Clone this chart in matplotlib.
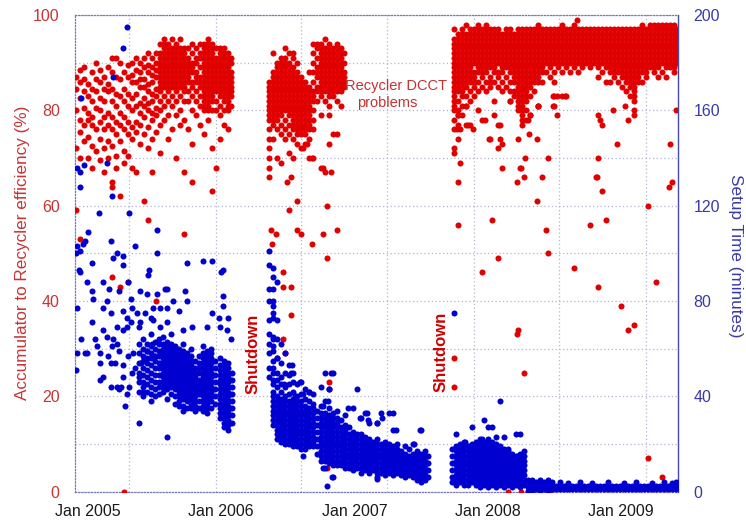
import matplotlib
matplotlib.use('Agg')
import matplotlib.pyplot as plt

plt.rcParams['font.family'] = ['Liberation Sans', 'DejaVu Sans']

# ---------------- data (decimal years; % efficiency; minutes) ----------------
year_ticks = [2005, 2006, 2007, 2008, 2009]
year_labels = ['Jan 2005', 'Jan 2006', 'Jan 2007', 'Jan 2008', 'Jan 2009']
grid_years = [2005.308, 2005.961, 2006.598, 2007.244, 2007.897, 2008.535, 2009.188]
eff_ticks = [0, 20, 40, 60, 80, 100]
setup_ticks = [0, 40, 80, 120, 160, 200]

# Accumulator-to-Recycler efficiency, period 1 (columns)
eff1_x = [2004.91, 2004.94, 2004.97, 2005.00, 2005.03, 2005.06, 2005.09, 2005.12, 2005.15, 2005.18,
          2005.21, 2005.24, 2005.27, 2005.30, 2005.33, 2005.36, 2005.39, 2005.42, 2005.45, 2005.48,
          2005.51, 2005.54, 2005.57, 2005.60, 2005.63, 2005.66, 2005.69, 2005.72, 2005.75, 2005.78,
          2005.81, 2005.84, 2005.87, 2005.90, 2005.93, 2005.96, 2005.99, 2006.02, 2006.05, 2006.07]
eff1_y = [
    [87, 84.5, 80, 72, 59], [88.5, 86, 82.5, 78, 75.5, 70, 53], [89, 86.5, 84, 80.5, 77, 73.5],
    [85.5, 83, 79.5, 78, 74.5, 70], [88, 84.5, 82, 78.5, 77, 72.5, 68], [90, 86.5, 84, 80.5, 76, 71.5],
    [88.5, 86, 82.5, 80, 77.5, 74, 69.5], [87, 84.5, 82, 78.5, 76, 72, 67],
    [89, 85.5, 84, 79.5, 77, 73.5, 70], [91, 88, 84.5, 82, 78.5, 76, 72.5, 65, 64, 45],
    [91, 87, 83.5, 81, 77.5, 75, 70.5, 68], [90, 86.5, 83, 79.5, 77, 73.5, 62, 43],
    [88, 84.5, 82, 78.5, 76, 71.5, 69, 0], [89.5, 87, 83.5, 81, 77.5, 75, 70.5, 44],
    [90, 87.5, 86, 82.5, 80, 76.5, 74, 68], [91, 88.5, 86, 83.5, 81, 77.5, 75.5, 67],
    [90, 88, 86.5, 85, 81.5, 79.5, 77, 73], [91, 89, 86.5, 85, 82.5, 81, 78.5, 75, 61],
    [92, 89.5, 88, 85.5, 84, 81.5, 80, 76.5, 72, 57], [91, 89, 87.5, 86, 83.5, 82, 79.5, 78, 74, 67],
    [92, 90, 88.5, 87, 84.5, 83, 80.5, 79, 75.5, 40],
    [94, 92, 91, 90, 89, 88, 87, 86, 85, 84, 82, 80, 77, 71],
    [95, 94, 93, 92, 91, 90, 89, 88, 87, 86, 85, 83, 81, 78],
    [94, 93, 92, 91, 90, 89, 88, 87, 86, 85, 84, 82, 79, 74],
    [95, 93, 92, 91, 90, 89, 88, 87, 86, 85, 83, 81, 76],
    [94, 93, 92, 91, 90, 89, 88, 87, 86, 85, 84, 82, 79, 70],
    [95, 93, 92, 91, 90, 89, 88, 87, 86, 85, 83, 80, 77],
    [93, 92, 91, 90, 89, 88, 87, 86, 85, 84, 82, 78, 67, 54],
    [93, 91, 90, 89, 88, 87, 86, 84, 82, 76], [94, 92, 90, 89, 88, 86, 85, 83, 80, 73, 65],
    [93, 91, 90, 88, 87, 86, 84, 82, 79], [94, 92, 91, 89, 87, 86, 85, 83, 81, 77],
    [94, 93, 92, 91, 90, 89, 88, 87, 86, 85, 84, 83, 82, 81, 80, 75],
    [95, 94, 93, 92, 91, 90, 89, 88, 87, 86, 85, 84, 83, 82, 81, 80, 78],
    [94, 93, 92, 91, 90, 89, 88, 87, 86, 85, 84, 83, 82, 80, 72, 63],
    [93, 91, 90, 89, 88, 87, 86, 85, 84, 82, 80, 68],
    [93, 92, 91, 90, 89, 88, 87, 86, 85, 84, 83, 81, 79, 74],
    [93, 92, 91, 90, 89, 88, 87, 86, 85, 84, 83, 82, 80, 77],
    [92, 91, 90, 89, 88, 87, 86, 85, 84, 83, 82, 81, 80, 76],
    [91, 90, 88, 87, 86, 85, 84, 83, 81]]

# period 2 (after first shutdown)
eff2_x = [2006.36, 2006.39, 2006.42, 2006.45, 2006.48, 2006.51, 2006.54, 2006.57, 2006.60, 2006.63,
          2006.66, 2006.69, 2006.72, 2006.75, 2006.78, 2006.81, 2006.84, 2006.87, 2006.90, 2006.92]
eff2_y = [
    [86, 85, 84, 83, 82, 81, 80, 79, 78, 76, 74, 72, 70, 68, 66],
    [92, 88, 87, 86, 85, 84, 83, 82, 81, 80, 79, 78, 77, 74],
    [90, 89, 88, 87, 86, 85, 84, 83, 82, 81, 80, 79, 78, 76, 70],
    [91, 90, 89, 88, 87, 86, 85, 84, 83, 82, 81, 80, 79, 77, 75, 69],
    [93, 91, 90, 89, 88, 87, 86, 85, 84, 83, 82, 81, 80, 78, 76, 74],
    [92, 90, 89, 88, 87, 86, 85, 84, 83, 82, 81, 80, 79, 77, 75, 71],
    [92, 91, 89, 88, 87, 86, 85, 84, 83, 82, 81, 80, 79, 78, 77, 76, 74, 70],
    [90, 88, 87, 86, 85, 84, 83, 82, 81, 80, 79, 78, 77, 76, 75, 73],
    [87, 86, 85, 84, 83, 82, 81, 80, 79, 78, 77, 76, 75, 72],
    [86, 85, 84, 83, 82, 81, 80, 79, 78, 77, 76, 75, 73],
    [88, 85, 84, 83, 82, 81, 80, 79, 78, 77, 76, 74, 70],
    [94, 92, 90, 88, 86, 84, 83, 82, 80, 78, 76, 70],
    [94, 93, 91, 89, 88, 87, 85, 84, 82],
    [94, 93, 92, 91, 90, 89, 88, 87, 86, 85, 84, 83, 79, 68],
    [95, 93, 92, 91, 90, 89, 88, 87, 86, 85, 84, 82, 67],
    [94, 93, 92, 91, 90, 89, 88, 87, 86, 85, 84, 83, 81, 79, 73],
    [93, 92, 91, 90, 89, 88, 87, 86, 85, 84, 83, 75],
    [94, 93, 92, 91, 90, 89, 88, 87, 86, 85, 84, 82, 75],
    [93, 92, 91, 90, 89, 88, 87, 86, 85, 84, 81],
    [92, 90, 88, 87, 86, 85]]
eff2_out_x = [2006.49, 2006.57, 2006.51, 2006.37, 2006.41, 2006.57, 2006.60, 2006.38, 2006.46, 2006.46,
              2006.52, 2006.52, 2006.46, 2006.48, 2006.82, 2006.79, 2006.87, 2006.76, 2006.68, 2006.79,
              2006.81, 2006.79, 2006.52, 2006.61, 2006.64, 2006.68, 2006.76]
eff2_out_y = [65, 61, 59, 55, 54, 55, 54, 52, 46, 43,
              43, 37, 32, 29, 67, 60, 55, 54, 52, 49,
              23, 5, 66, 72, 73, 70, 68]

# period 3 (after second shutdown)
eff3_x = [2007.75, 2007.78, 2007.81, 2007.84, 2007.87, 2007.90, 2007.93, 2007.96, 2007.99, 2008.02,
          2008.05, 2008.08, 2008.11, 2008.14, 2008.17, 2008.20, 2008.23, 2008.26, 2008.29, 2008.32,
          2008.35, 2008.38, 2008.41, 2008.44, 2008.47, 2008.50, 2008.53, 2008.56, 2008.59, 2008.62,
          2008.65, 2008.68, 2008.71, 2008.74, 2008.77, 2008.80, 2008.83, 2008.86, 2008.89, 2008.92,
          2008.95, 2008.98, 2009.01, 2009.04, 2009.07, 2009.10, 2009.13, 2009.16, 2009.19, 2009.22,
          2009.25, 2009.28, 2009.31, 2009.34, 2009.37, 2009.40, 2009.42]
eff3_y = [
    [97, 95, 94, 93, 92, 91, 90, 89, 88, 87, 86, 85, 84, 83, 82, 81, 80, 78, 76, 72],
    [96, 95, 94, 93, 92, 91, 90, 89, 88, 87, 86, 85, 84, 82, 80, 79, 77, 74],
    [97, 96, 95, 94, 93, 92, 91, 90, 89, 88, 87, 86, 85, 84, 83, 81, 79],
    [98, 96, 95, 94, 93, 92, 91, 90, 89, 88, 87, 86, 85, 83, 81, 77],
    [97, 96, 95, 94, 93, 92, 91, 90, 89, 88, 87, 86, 84, 82, 77],
    [97, 96, 95, 94, 93, 92, 91, 90, 88, 87, 86, 85, 83],
    [98, 97, 96, 95, 94, 93, 92, 91, 90, 89, 88, 86, 84, 80],
    [97, 96, 95, 94, 93, 92, 91, 90, 89, 88, 87, 85, 78],
    [98, 97, 96, 95, 94, 93, 92, 91, 90, 89, 88, 86, 84],
    [97, 96, 95, 94, 93, 92, 91, 90, 89, 87, 86, 85],
    [97, 96, 95, 94, 93, 92, 91, 90, 89, 88, 86, 82, 79],
    [97, 96, 95, 94, 93, 92, 91, 90, 88, 87, 85, 77],
    [96, 95, 94, 93, 92, 91, 90, 89, 88, 86, 84],
    [97, 96, 95, 94, 93, 92, 91, 90, 89, 87, 85],
    [97, 96, 95, 94, 93, 92, 91, 90, 89, 88, 86, 84, 82],
    [96, 95, 94, 93, 92, 91, 90, 89, 88, 87, 86, 84, 83],
    [97, 96, 95, 94, 93, 92, 91, 90, 89, 88, 87, 86, 85, 84, 83, 82, 81, 80],
    [97, 96, 95, 94, 93, 92, 91, 90, 89, 88, 87, 86, 85, 84, 83, 82, 81, 80, 79, 78],
    [97, 96, 95, 94, 93, 92, 91, 90, 89, 88, 87, 86, 85, 84, 83, 82, 80, 78],
    [97, 96, 95, 94, 93, 92, 91, 90, 89, 88, 87, 86, 85, 83, 79],
    [97, 96, 95, 94, 93, 92, 91, 90, 89, 88, 87, 86, 84],
    [98, 97, 96, 95, 94, 93, 92, 91, 90, 89, 88, 87, 86, 81],
    [97, 96, 95, 94, 93, 92, 91, 90, 89, 88, 86],
    [97, 96, 95, 94, 93, 92, 91, 90, 88],
    [97, 96, 95, 94, 93, 92, 91, 90, 89, 87],
    [97, 96, 95, 94, 93, 92, 91, 90, 88, 86, 83],
    [97, 96, 95, 94, 93, 92, 91, 90, 89],
    [98, 97, 96, 95, 94, 93, 92, 91, 90, 88, 83],
    [97, 96, 95, 94, 93, 92, 91, 90, 89],
    [97, 96, 95, 94, 93, 92, 91, 90, 88],
    [98, 97, 96, 95, 94, 93, 92, 91, 90, 89],
    [97, 96, 95, 94, 93, 92, 91, 90, 88],
    [97, 96, 95, 94, 93, 92, 91, 90, 89],
    [97, 96, 95, 94, 93, 92, 91, 90],
    [97, 96, 95, 94, 93, 92, 91, 90, 89],
    [97, 96, 95, 94, 93, 92, 91, 90],
    [97, 96, 95, 94, 93, 92, 91, 90, 89, 87],
    [97, 96, 95, 94, 93, 92, 91, 90, 88],
    [97, 96, 95, 94, 93, 92, 91, 90, 89, 86],
    [97, 96, 95, 94, 93, 92, 91, 90, 89, 88, 86],
    [97, 96, 95, 94, 93, 92, 91, 90, 89, 88, 87],
    [97, 96, 95, 94, 93, 92, 91, 90, 89, 88, 86],
    [97, 96, 95, 94, 93, 92, 91, 90, 89, 88, 87, 85],
    [97, 96, 95, 94, 93, 92, 91, 90, 89, 88, 87, 86, 84],
    [97, 96, 95, 94, 93, 92, 91, 90, 89, 88, 87, 86, 85, 83],
    [97, 96, 95, 94, 93, 92, 91, 90, 89, 88, 87, 86, 85, 84, 83, 82],
    [97, 96, 95, 94, 93, 92, 91, 90, 89, 88, 87, 86],
    [98, 97, 96, 95, 94, 93, 92, 91, 90, 89, 88, 86],
    [97, 96, 95, 94, 93, 92, 91, 90, 89, 88, 87],
    [98, 97, 96, 95, 94, 93, 92, 91, 90, 89],
    [98, 97, 96, 95, 94, 93, 92, 91, 90, 89, 88],
    [98, 97, 96, 95, 94, 93, 92, 91, 90, 89, 87],
    [98, 97, 96, 95, 94, 93, 92, 91, 90, 88],
    [98, 97, 96, 95, 94, 93, 92, 91, 90, 89, 87],
    [98, 97, 96, 95, 94, 93, 92, 91, 90, 89],
    [98, 97, 96, 95, 94, 93, 92, 91, 90, 89, 88],
    [97, 96, 95, 94, 93, 92, 91, 90]]
eff3_out_x = [2007.98, 2008.01, 2008.11, 2008.08, 2008.28, 2008.45, 2008.11, 2008.25, 2008.27, 2008.41,
              2008.52, 2008.38, 2008.50, 2008.23, 2008.31, 2008.37, 2008.26, 2008.83, 2008.84, 2008.86,
              2008.97, 2008.94, 2009.03, 2009.05, 2009.10, 2009.10, 2008.83, 2008.82, 2009.37, 2009.41,
              2008.49, 2008.59, 2008.67, 2008.22, 2008.37, 2008.03, 2008.44, 2008.45, 2008.08, 2007.96,
              2008.81, 2008.86, 2008.77, 2008.89, 2008.65, 2008.83, 2009.00, 2009.05, 2009.10, 2008.23,
              2008.22, 2009.20, 2009.26, 2009.36, 2009.38, 2008.27, 2009.20, 2009.31, 2008.15, 2008.25,
              2008.31, 2008.47, 2007.78, 2007.78, 2007.75, 2007.75, 2007.75, 2007.79, 2008.02, 2008.09,
              2008.09, 2008.24, 2007.78, 2007.79, 2007.77, 2007.85, 2007.89, 2007.84, 2008.32, 2008.30,
              2008.38, 2008.49, 2008.58, 2008.52, 2008.17]
eff3_out_y = [78, 74, 73, 72, 70, 70, 68, 68, 66, 66,
              79, 81, 81, 74, 75, 74, 77, 79, 78, 77,
              73, 80, 81, 78, 80, 79, 70, 66, 73, 80,
              83, 83, 99, 65, 61, 57, 55, 50, 49, 46,
              66, 63, 56, 57, 47, 43, 39, 34, 35, 34,
              33, 60, 44, 64, 65, 25, 7, 3, 0, 0,
              0, 0, 65, 56, 28, 22, 71, 69, 74, 74,
              77, 68, 79, 76, 76, 77, 76, 81, 79, 78,
              81, 81, 83, 83, 82]

# Setup time (minutes), period 1: sparse points
setup1_sx = [2005.29, 2005.26, 2005.19, 2004.95, 2005.14, 2004.97, 2004.94, 2004.92, 2004.94, 2005.18,
             2005.08, 2005.31, 2005.00, 2005.52, 2004.92, 2004.94, 2004.98, 2005.17, 2005.35, 2005.52,
             2004.96, 2004.91, 2005.22, 2005.26, 2005.19, 2005.03, 2005.26, 2005.46, 2005.45, 2005.74,
             2005.86, 2005.93, 2006.01, 2006.00, 2004.93, 2004.94, 2004.99, 2005.11, 2005.16, 2005.23,
             2005.30, 2005.03, 2005.04, 2005.14, 2005.32, 2005.39, 2005.44, 2005.52, 2005.58, 2005.59,
             2005.73, 2006.01, 2006.01, 2004.92, 2005.11, 2005.17, 2005.26, 2005.33, 2005.37, 2005.29,
             2005.43, 2005.49, 2005.54, 2005.59, 2005.64, 2005.68, 2005.74, 2005.93, 2006.05, 2005.98,
             2005.03, 2005.11, 2005.05, 2005.14, 2005.19, 2005.26, 2005.29, 2005.32, 2005.39, 2005.47,
             2005.49, 2005.54, 2005.59, 2005.71, 2005.78, 2005.89, 2005.99, 2006.04, 2006.07, 2004.95,
             2004.99, 2005.07, 2005.09, 2005.15, 2005.17, 2005.22, 2005.23, 2005.30, 2005.35, 2005.33,
             2005.26, 2005.26, 2005.11, 2005.17, 2005.23, 2005.29, 2004.91, 2004.92, 2004.98, 2005.09,
             2005.22, 2005.25, 2005.31, 2005.28, 2005.38, 2005.59, 2005.38, 2005.41, 2005.09, 2005.20,
             2005.18, 2005.22, 2005.38, 2005.44, 2005.34, 2005.48, 2005.50, 2005.40, 2005.54, 2005.61]
setup1_sy = [195, 186, 174, 165, 138, 137, 134, 136, 128, 124,
             117, 117, 109, 110, 103, 101, 105, 105, 103, 100,
             104, 100, 100, 99, 98, 96, 95, 93, 91, 96,
             97, 97, 93, 92, 93, 92, 88, 88, 85, 84,
             88, 84, 81, 80, 81, 84, 83, 83, 85, 85,
             84, 82, 78, 77, 77, 75, 76, 77, 75, 73,
             75, 77, 77, 77, 80, 76, 80, 75, 73, 73,
             71, 68, 64, 65, 64, 68, 69, 71, 71, 73,
             72, 69, 71, 68, 69, 69, 69, 68, 64, 64,
             58, 61, 58, 57, 54, 62, 59, 57, 52, 50,
             53, 48, 48, 44, 43, 41, 51, 58, 58, 47,
             44, 44, 44, 36, 29, 23, 48, 42, 54, 54,
             61, 69, 69, 59, 58, 62, 57, 54, 54, 56]

# period 1: dense columns
setup1_x = [2005.38, 2005.41, 2005.44, 2005.47, 2005.50, 2005.53, 2005.56, 2005.59, 2005.62, 2005.65,
            2005.68, 2005.71, 2005.74, 2005.77, 2005.80, 2005.83, 2005.86, 2005.89, 2005.92, 2005.95,
            2005.99, 2006.02, 2006.05, 2006.08]
setup1_y = [
    [62, 58, 54, 50, 46, 42], [64, 60, 57, 55, 52, 49, 46, 44, 40], [62, 59, 56, 54, 51, 48, 45, 42],
    [66, 61, 58, 56, 53, 50, 47, 44, 41, 38], [63, 60, 57, 55, 52, 49, 46, 43, 40],
    [64, 62, 59, 57, 54, 52, 49, 46, 44, 41], [65, 62, 60, 58, 56, 54, 52, 50, 48, 46, 44, 42],
    [63, 61, 59, 57, 55, 53, 51, 49, 47, 45, 43, 39], [66, 62, 60, 58, 56, 54, 52, 50, 48, 46, 44, 41],
    [61, 59, 57, 55, 53, 51, 49, 47, 45, 43, 40, 37], [60, 58, 56, 54, 52, 50, 48, 46, 44, 42, 40, 38, 36],
    [62, 59, 57, 55, 53, 51, 49, 47, 45, 43, 41, 39, 36, 34], [58, 56, 54, 52, 50, 48, 46, 44, 42, 40, 38, 35],
    [60, 57, 55, 53, 51, 49, 47, 45, 43, 41, 39, 37, 35], [55, 52, 50, 48, 46, 44, 42, 40, 38, 36, 34],
    [57, 54, 52, 50, 47, 45, 43, 41, 38, 35], [61, 58, 56, 54, 52, 50, 48, 46, 44, 42, 40, 38, 36, 34],
    [59, 57, 55, 53, 51, 49, 47, 45, 43, 41, 39, 37, 35, 33], [60, 58, 56, 54, 52, 50, 48, 46, 44, 42, 40, 38, 35],
    [55, 52, 49, 46, 43, 40, 37], [56, 53, 51, 49, 47, 45, 43, 41, 39, 37, 35, 33, 31],
    [55, 53, 51, 49, 47, 45, 43, 41, 39, 37, 35, 33, 31, 29, 27],
    [54, 52, 50, 48, 46, 44, 42, 40, 38, 36, 34, 32, 30, 28, 26], [50, 47, 44, 41, 38, 35, 32, 29]]

# period 2: columns
setup2_x = [2006.36, 2006.39, 2006.42, 2006.45, 2006.48, 2006.51, 2006.54, 2006.57, 2006.60, 2006.63,
            2006.66, 2006.69, 2006.72, 2006.75, 2006.78, 2006.81, 2006.84, 2006.87, 2006.90, 2006.93,
            2006.96, 2006.99, 2007.02, 2007.05, 2007.08, 2007.11, 2007.14, 2007.17, 2007.20, 2007.23,
            2007.26, 2007.29, 2007.32, 2007.35, 2007.38, 2007.41, 2007.44, 2007.47, 2007.50, 2007.53,
            2007.55]
setup2_y = [
    [101, 95, 85, 80, 72, 66, 62, 58, 52, 48],
    [94, 90, 85, 80, 78, 75, 73, 65, 64, 61, 59, 55, 52, 50, 47, 45, 42, 40, 38, 36, 34, 32, 30, 28],
    [88, 72, 64, 56, 50, 47, 44, 40, 38, 36, 34, 32, 30, 28, 26, 24, 22],
    [62, 54, 48, 45, 42, 39, 37, 35, 33, 31, 29, 27, 25, 23, 21],
    [58, 50, 44, 40, 38, 36, 34, 32, 30, 28, 26, 24, 22, 20],
    [53, 49, 45, 41, 38, 36, 34, 32, 30, 28, 26, 24, 22, 20],
    [50, 46, 42, 39, 37, 35, 33, 31, 29, 27, 25, 23, 21, 19],
    [45, 40, 38, 36, 34, 32, 30, 28, 26, 24, 22, 20, 19],
    [46, 41, 38, 36, 34, 32, 30, 28, 26, 24, 22, 20, 18],
    [43, 39, 36, 34, 32, 30, 28, 26, 24, 22, 20, 18],
    [42, 38, 35, 33, 31, 29, 27, 25, 23, 21, 19],
    [41, 37, 35, 33, 31, 29, 27, 25, 23, 21, 19],
    [34, 31, 28, 25, 22, 19, 16],
    [44, 36, 33, 31, 29, 27, 25, 23, 21, 19, 17, 15, 13],
    [50, 38, 33, 31, 29, 27, 25, 23, 21, 19, 17, 15, 13, 10],
    [43, 35, 32, 30, 28, 26, 24, 22, 20, 18, 16, 14, 12],
    [50, 33, 31, 29, 27, 25, 23, 21, 19, 17, 15, 13, 11, 6],
    [34, 31, 29, 27, 25, 23, 21, 19, 17, 15, 13, 11],
    [30, 27, 25, 23, 21, 19, 17, 15, 13, 11],
    [32, 28, 26, 24, 22, 20, 18, 16, 14, 12, 10],
    [27, 24, 22, 20, 18, 16, 14, 12, 10],
    [35, 25, 23, 21, 19, 17, 15, 13, 11, 9],
    [43, 24, 22, 20, 18, 16, 14, 12, 10],
    [31, 24, 22, 20, 18, 16, 14, 12, 10, 8],
    [33, 23, 21, 19, 17, 15, 13, 11, 9],
    [29, 22, 20, 18, 16, 14, 12, 10, 8],
    [21, 19, 17, 15, 13, 11, 9],
    [29, 22, 20, 18, 16, 14, 12, 10, 8, 6],
    [33, 20, 18, 16, 14, 12, 10, 8],
    [21, 19, 17, 15, 13, 11, 9, 7],
    [33, 20, 18, 16, 14, 12, 10, 8],
    [26, 19, 17, 15, 13, 11, 9, 7],
    [20, 18, 16, 14, 12, 10, 8],
    [17, 15, 13, 11, 9, 7],
    [19, 16, 14, 12, 10, 8, 6],
    [18, 15, 13, 11, 9, 7],
    [20, 16, 14, 12, 10, 8, 6],
    [17, 15, 13, 11, 9, 7, 5],
    [26, 16, 14, 12, 10, 8, 6],
    [17, 15, 13, 11, 9, 7, 5],
    [15, 12, 9, 6]]
setup2_out_x = [2006.53, 2006.52, 2006.47, 2006.59, 2006.61, 2006.66, 2006.55, 2006.82, 2006.81, 2006.80,
                2006.76, 2006.95, 2007.04, 2007.09, 2007.10, 2007.17, 2007.21, 2007.29, 2007.31, 2007.49,
                2007.45, 2006.61, 2006.76, 2006.83, 2006.79, 2007.17, 2007.50, 2006.42]
setup2_out_y = [53, 50, 45, 46, 41, 42, 40, 50, 43, 38,
                36, 35, 31, 33, 30, 29, 31, 33, 26, 26,
                20, 15, 10, 6, 2.5, 5.5, 4, 56]

# period 3: cluster columns, then flat band
setup3_x = [2007.73, 2007.76, 2007.79, 2007.82, 2007.85, 2007.88, 2007.91, 2007.94, 2007.97, 2008.00,
            2008.03, 2008.06, 2008.09, 2008.12, 2008.15, 2008.18, 2008.21, 2008.24, 2008.27]
setup3_y = [
    [18, 15, 12, 9, 6, 4], [24, 19, 17, 15, 13, 11, 9, 7, 5, 3], [20, 18, 16, 14, 12, 10, 8, 6, 4],
    [21, 19, 17, 15, 13, 11, 9, 7, 5, 3], [19, 17, 15, 13, 11, 9, 7, 5, 3],
    [27, 20, 18, 16, 14, 12, 10, 8, 6, 4], [21, 19, 17, 15, 13, 11, 9, 7, 5, 3],
    [22, 20, 18, 16, 14, 12, 10, 8, 6, 4, 2], [30, 21, 19, 17, 15, 13, 11, 9, 7, 5, 3],
    [27, 22, 20, 18, 16, 14, 12, 10, 8, 6, 4, 2], [27, 21, 19, 17, 15, 13, 11, 9, 7, 5, 3],
    [20, 18, 16, 14, 12, 10, 8, 6, 4, 2], [38, 19, 17, 15, 13, 11, 9, 7, 5, 3],
    [23, 18, 16, 14, 12, 10, 8, 6, 4, 2], [18, 17, 15, 13, 11, 9, 7, 5, 3],
    [16, 14, 12, 10, 8, 6, 4, 2], [24, 15, 13, 11, 9, 7, 5, 3], [24, 16, 14, 12, 10, 8, 6, 4, 2],
    [17, 15, 13, 11, 9, 7, 5, 3]]
setup3_out_x = [2007.75, 2007.96, 2008.06, 2008.23, 2007.87, 2007.83]
setup3_out_y = [75, 22, 23, 15, 19, 21]

setup4_x = [2008.30, 2008.33, 2008.36, 2008.39, 2008.42, 2008.45, 2008.48, 2008.51, 2008.54, 2008.57,
            2008.60, 2008.63, 2008.66, 2008.69, 2008.72, 2008.75, 2008.78, 2008.81, 2008.84, 2008.87,
            2008.90, 2008.93, 2008.96, 2008.99, 2009.02, 2009.05, 2009.08, 2009.11, 2009.14, 2009.17,
            2009.20, 2009.23, 2009.26, 2009.29, 2009.32, 2009.35, 2009.38, 2009.41]
setup4_y = [
    [0.5, 2, 3.5, 5], [0.5, 2, 3.5, 5], [1, 2.5, 4], [0.5, 2, 3.5, 5], [1, 2.5, 4], [0.5, 2, 3.5, 5],
    [1, 2.5, 4], [1, 2.5], [1, 2.5, 4], [1, 2.5], [1, 2.5, 3.5], [1, 2.5], [1, 2.5], [1, 2.5, 4],
    [1, 2.5], [1, 2.5], [1, 2.5, 3.5], [1, 2.5], [1, 2.5], [1, 2.5], [1, 2.5, 4], [1, 2.5], [1, 2.5],
    [1, 2.5], [1, 2.5, 3.5], [1, 2.5], [1, 2.5], [1, 2.5, 4], [1, 2.5], [1, 2.5], [1, 2.5], [1, 2.5, 3.5],
    [1, 2.5], [1, 2.5], [1, 2.5, 4], [1, 2.5], [1, 2.5, 3.5], [1, 2.5, 4]]


def columns(xs, ys):
    px, py = [], []
    for x, col in zip(xs, ys):
        px += [x] * len(col)
        py += list(col)
    return px, py


ex, ey = [], []
for xs, ys in [(eff1_x, eff1_y), (eff2_x, eff2_y), (eff3_x, eff3_y)]:
    a, b = columns(xs, ys)
    ex += a
    ey += b
ex += eff2_out_x + eff3_out_x
ey += eff2_out_y + eff3_out_y

sx, sy = [], []
for xs, ys in [(setup1_x, setup1_y), (setup2_x, setup2_y), (setup3_x, setup3_y), (setup4_x, setup4_y)]:
    a, b = columns(xs, ys)
    sx += a
    sy += b
sx += setup1_sx + setup2_out_x + setup3_out_x
sy += setup1_sy + setup2_out_y + setup3_out_y

# ---------------- drawing ----------------
RED = '#e00000'
BLUE = '#0000d0'
GRID = '#b4b4d2'
MS = 19

fig = plt.figure(figsize=(7.46, 5.22), dpi=100)
ax = fig.add_axes([75 / 746, 1 - 491.7 / 522, 603 / 746, 476.7 / 522])
ax.set_xlim(2004.902, 2009.428)
ax.set_ylim(0, 100)

ax.scatter(ex, ey, s=MS, c=RED, marker='o', linewidths=0, zorder=3)

ax.set_xticks(year_ticks)
ax.set_xticklabels(year_labels)
ax.set_xticks(grid_years, minor=True)
ax.set_yticks(eff_ticks)
ax.set_yticks([10, 30, 50, 70, 90], minor=True)
ax.grid(False)
ax.xaxis.grid(True, which='minor', color=GRID, linestyle=(0, (1, 2)), linewidth=0.9)
ax.yaxis.grid(True, which='both', color=GRID, linestyle=(0, (1, 2)), linewidth=0.9)
ax.set_axisbelow(True)
ax.tick_params(which='both', length=0)
ax.tick_params(axis='y', colors='#c83434', labelsize=11.5, pad=11)
ax.tick_params(axis='x', colors='#1a1a1a', labelsize=11.5, pad=9)
for side in ['left', 'top', 'bottom']:
    ax.spines[side].set_linestyle((0, (1, 1.5)))
    ax.spines[side].set_color('#7878c0')
    ax.spines[side].set_linewidth(0.9)
ax.spines['right'].set_visible(False)

ax2 = ax.twinx()
ax2.set_ylim(0, 200)
ax2.scatter(sx, sy, s=MS, c=BLUE, marker='o', linewidths=0, zorder=3)
ax2.set_yticks(setup_ticks)
ax2.tick_params(axis='y', length=0, colors='#3a3aa8', labelsize=11.5, pad=11)
for side in ['left', 'top', 'bottom']:
    ax2.spines[side].set_visible(False)
ax2.spines['right'].set_color('#4848b0')
ax2.spines['right'].set_linewidth(1.0)

# annotations
ax.text(2006.238, 28.9, 'Shutdown', rotation=90, color='#d00000', fontsize=12,
        fontweight='bold', ha='center', va='center', zorder=5)
ax.text(2007.649, 29.3, 'Shutdown', rotation=90, color='#d00000', fontsize=12,
        fontweight='bold', ha='center', va='center', zorder=5)
ax.text(2007.311, 85.1, 'Recycler DCCT', color='#c83030', fontsize=10.5,
        ha='center', va='center', zorder=5)
ax.text(2007.244, 81.5, 'problems', color='#c83030', fontsize=10.5,
        ha='center', va='center', zorder=5)

fig.text(23 / 746, 1 - 253 / 522, 'Accumulator to Recycler efficiency (%)', rotation=90,
         color='#c83434', fontsize=12.3, ha='center', va='center')
fig.text(736 / 746, 1 - 255.5 / 522, 'Setup Time (minutes)', rotation=270,
         color='#3a3aa8', fontsize=12.3, ha='center', va='center')

fig.savefig('out.png', dpi=100)
